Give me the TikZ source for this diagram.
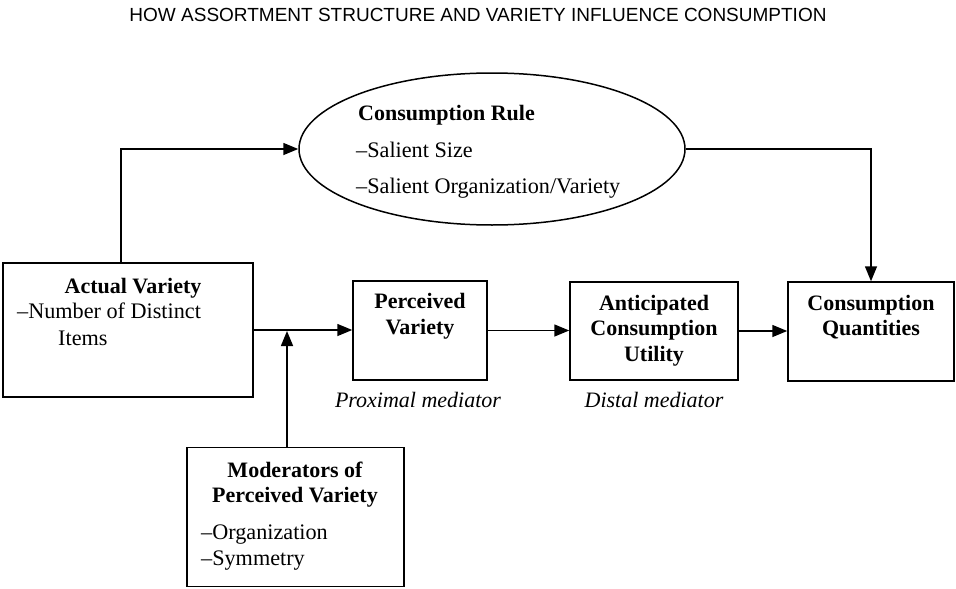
\documentclass[tikz,border=0pt]{standalone}
\usepackage{fontspec}
\setmainfont{Liberation Serif}
\newfontfamily\titlefont{Liberation Sans}
\usetikzlibrary{shapes.geometric,arrows.meta}
\begin{document}
\begin{tikzpicture}[x=1pt,y=-1pt,
  box/.style={draw,line width=1.5pt,rectangle,inner sep=0pt},
  arr/.style={line width=1.5pt,-{Triangle[length=15pt,width=12pt]}},
  txt/.style={inner sep=0pt,font=\fontsize{22.2}{26}\selectfont},
  btxt/.style={inner sep=0pt,font=\fontsize{22}{26}\selectfont\bfseries},
  itxt/.style={inner sep=0pt,font=\fontsize{22}{26}\selectfont\itshape}]
\useasboundingbox (0,0) rectangle (956,589);
\node[inner sep=0pt,anchor=base,font=\titlefont\fontsize{19}{21}\selectfont] (title) at (478,21) {HOW ASSORTMENT STRUCTURE AND VARIETY INFLUENCE CONSUMPTION};
% boxes
\node[box,minimum width=250pt,minimum height=134pt] (av) at (128,330) {};
\node[box,minimum width=134pt,minimum height=99pt] (pv) at (420,330.5) {};
\node[box,minimum width=168pt,minimum height=98pt] (ac) at (654,331) {};
\node[box,minimum width=166pt,minimum height=99pt] (cq) at (871,331.5) {};
\node[box,minimum width=217pt,minimum height=139pt] (mod) at (295.5,517) {};
\node[draw,ellipse,line width=1.5pt,inner sep=0pt,minimum width=386pt,minimum height=152pt] (rule) at (492,149) {};
% texts
\node[btxt,anchor=base west] (t1) at (358,120) {Consumption Rule};
\node[txt,anchor=base west] (t2) at (356,157) {--Salient Size};
\node[txt,anchor=base west] (t3) at (356,193) {--Salient Organization/Variety};
\node[btxt,anchor=base] (t4) at (133,293) {Actual Variety};
\node[txt,anchor=base west] (t5) at (17,318) {--Number of Distinct};
\node[txt,anchor=base west] (t6) at (58,345) {Items};
\node[btxt,anchor=base] (t7) at (420,308) {Perceived};
\node[btxt,anchor=base] (t8) at (420,334) {Variety};
\node[btxt,anchor=base] (t9) at (654,310) {Anticipated};
\node[btxt,anchor=base] (t10) at (654,335) {Consumption};
\node[btxt,anchor=base] (t11) at (654,361) {Utility};
\node[btxt,anchor=base] (t12) at (871,310) {Consumption};
\node[btxt,anchor=base] (t13) at (871,335) {Quantities};
\node[itxt,anchor=base] (t14) at (418,407) {Proximal mediator};
\node[itxt,anchor=base] (t15) at (654,407) {Distal mediator};
\node[btxt,anchor=base] (t16) at (295,477) {Moderators of};
\node[btxt,anchor=base] (t17) at (295,502) {Perceived Variety};
\node[txt,anchor=base west] (t18) at (201,539) {--Organization};
\node[txt,anchor=base west] (t19) at (201,565) {--Symmetry};
% connectors
\coordinate (up) at (121,263);
\coordinate (j) at (287,331);
\draw[arr] (up) |- (rule.west);
\draw[arr] (rule.east) -| (cq.north);
\draw[arr] (av.east) -- (av.east -| pv.west);
\draw[arr] (pv.east) -- (pv.east -| ac.west);
\draw[arr] (ac.east) -- (ac.east -| cq.west);
\draw[arr] (mod.north -| j) -- (j);
\end{tikzpicture}
\end{document}
